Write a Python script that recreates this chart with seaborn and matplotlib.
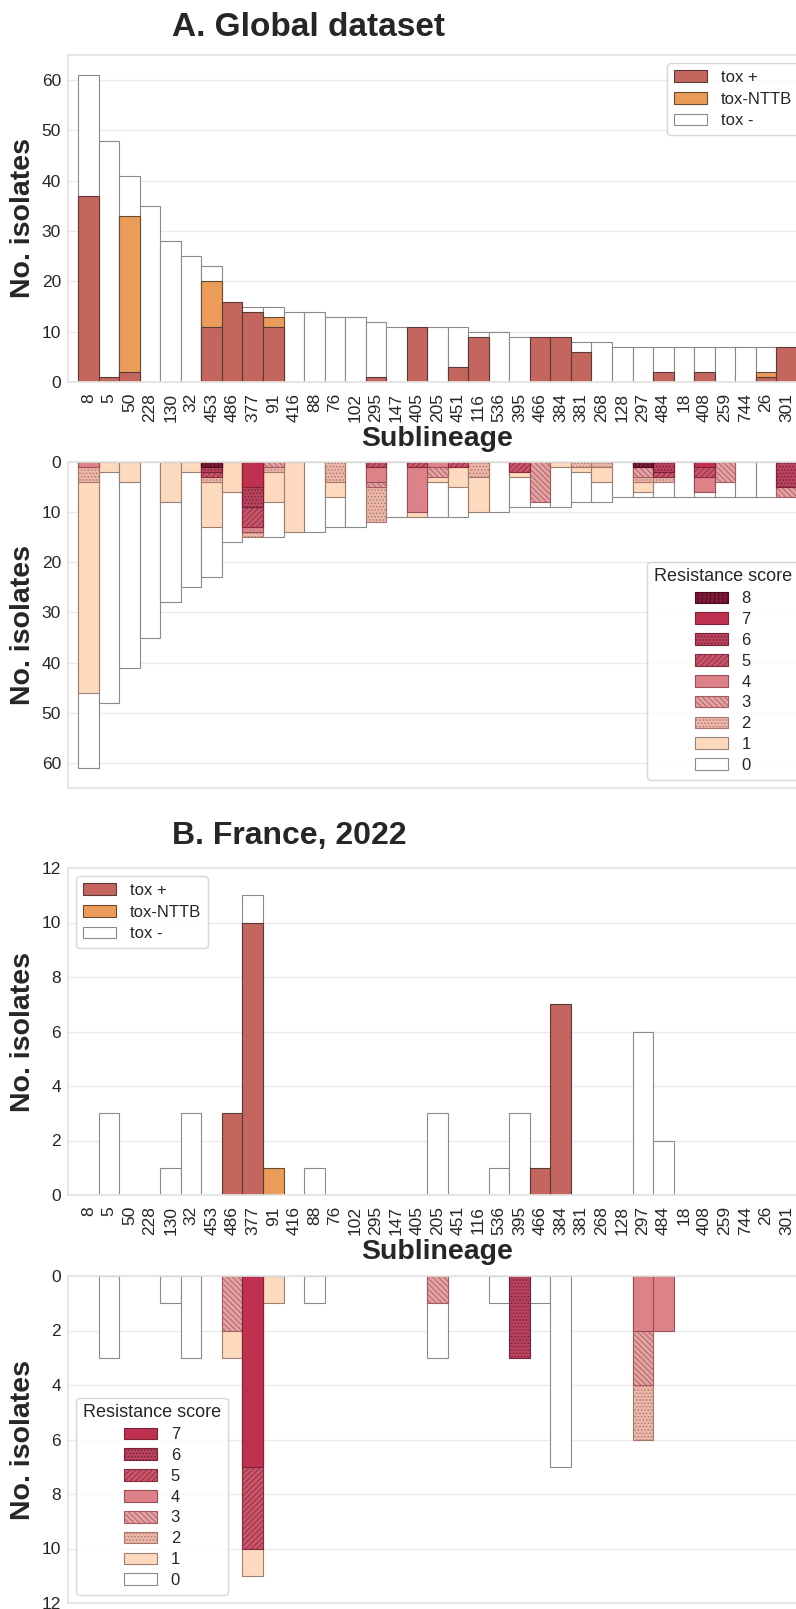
import numpy as np
import pandas as pd
import seaborn as sns
import matplotlib.pyplot as plt
from matplotlib.patches import Patch

sublineages = ["8", "5", "50", "228", "130", "32", "453", "486", "377", "91",
               "416", "88", "76", "102", "295", "147", "405", "205", "451", "116",
               "536", "395", "466", "384", "381", "268", "128", "297", "484", "18",
               "408", "259", "744", "26", "301"]

# A. Global dataset - toxigenicity counts
glob_tox_pos = [37, 1, 2, 0, 0, 0, 11, 16, 14, 11, 0, 0, 0, 0, 1, 0, 11, 0, 3, 9,
                0, 0, 9, 9, 6, 0, 0, 0, 2, 0, 2, 0, 0, 1, 7]
glob_tox_nttb = [0, 0, 31, 0, 0, 0, 9, 0, 0, 2, 0, 0, 0, 0, 0, 0, 0, 0, 0, 0,
                 0, 0, 0, 0, 0, 0, 0, 0, 0, 0, 0, 0, 0, 1, 0]
glob_tox_neg = [24, 47, 8, 35, 28, 25, 3, 0, 1, 2, 14, 14, 13, 13, 11, 11, 0, 11, 8, 1,
                10, 9, 0, 0, 2, 8, 7, 7, 5, 7, 5, 7, 7, 5, 0]

# A. Global dataset - resistance score counts
glob_res_8 = [0, 0, 0, 0, 0, 0, 1, 0, 0, 0, 0, 0, 0, 0, 0, 0, 0, 0, 0, 0,
              0, 0, 0, 0, 0, 0, 0, 1, 0, 0, 0, 0, 0, 0, 0]
glob_res_7 = [0, 0, 0, 0, 0, 0, 0, 0, 5, 0, 0, 0, 0, 0, 0, 0, 0, 0, 0, 0,
              0, 0, 0, 0, 0, 0, 0, 0, 0, 0, 1, 0, 0, 0, 0]
glob_res_6 = [0, 0, 0, 0, 0, 0, 1, 0, 4, 0, 0, 0, 0, 0, 0, 0, 0, 0, 0, 0,
              0, 0, 0, 0, 0, 0, 0, 0, 2, 0, 0, 0, 0, 0, 5]
glob_res_5 = [0, 0, 0, 0, 0, 0, 1, 0, 4, 0, 0, 0, 0, 0, 1, 0, 1, 0, 1, 0,
              0, 2, 0, 0, 0, 0, 0, 0, 1, 0, 2, 0, 0, 0, 0]
glob_res_4 = [1, 0, 0, 0, 0, 0, 0, 0, 1, 0, 0, 0, 0, 0, 3, 0, 9, 1, 0, 0,
              0, 0, 0, 0, 0, 0, 0, 0, 0, 0, 3, 0, 0, 0, 0]
glob_res_3 = [0, 0, 0, 0, 0, 0, 0, 0, 0, 1, 0, 0, 0, 0, 1, 0, 0, 2, 0, 0,
              0, 0, 8, 0, 0, 0, 0, 2, 0, 0, 0, 4, 0, 0, 2]
glob_res_2 = [3, 0, 0, 0, 0, 0, 1, 0, 1, 1, 0, 0, 4, 0, 7, 0, 0, 0, 0, 3,
              0, 0, 0, 0, 1, 1, 0, 1, 1, 0, 0, 0, 0, 0, 0]
glob_res_1 = [42, 2, 4, 0, 8, 2, 9, 6, 0, 6, 14, 0, 3, 0, 0, 0, 1, 1, 4, 7,
              0, 1, 0, 1, 1, 3, 0, 2, 0, 0, 0, 0, 0, 0, 0]
glob_res_0 = [15, 46, 37, 35, 20, 23, 10, 10, 0, 7, 0, 14, 6, 13, 0, 11, 0, 7, 6, 0,
              10, 6, 1, 8, 6, 4, 7, 1, 3, 7, 1, 3, 7, 7, 0]

# B. France 2022 - toxigenicity counts
fr_tox_pos = [0, 0, 0, 0, 0, 0, 0, 3, 10, 0, 0, 0, 0, 0, 0, 0, 0, 0, 0, 0,
              0, 0, 1, 7, 0, 0, 0, 0, 0, 0, 0, 0, 0, 0, 0]
fr_tox_nttb = [0, 0, 0, 0, 0, 0, 0, 0, 0, 1, 0, 0, 0, 0, 0, 0, 0, 0, 0, 0,
               0, 0, 0, 0, 0, 0, 0, 0, 0, 0, 0, 0, 0, 0, 0]
fr_tox_neg = [0, 3, 0, 0, 1, 3, 0, 0, 1, 0, 0, 1, 0, 0, 0, 0, 0, 3, 0, 0,
              1, 3, 0, 0, 0, 0, 0, 6, 2, 0, 0, 0, 0, 0, 0]

# B. France 2022 - resistance score counts
fr_res_7 = [0, 0, 0, 0, 0, 0, 0, 0, 7, 0, 0, 0, 0, 0, 0, 0, 0, 0, 0, 0,
            0, 0, 0, 0, 0, 0, 0, 0, 0, 0, 0, 0, 0, 0, 0]
fr_res_6 = [0, 0, 0, 0, 0, 0, 0, 0, 0, 0, 0, 0, 0, 0, 0, 0, 0, 0, 0, 0,
            0, 3, 0, 0, 0, 0, 0, 0, 0, 0, 0, 0, 0, 0, 0]
fr_res_5 = [0, 0, 0, 0, 0, 0, 0, 0, 3, 0, 0, 0, 0, 0, 0, 0, 0, 0, 0, 0,
            0, 0, 0, 0, 0, 0, 0, 0, 0, 0, 0, 0, 0, 0, 0]
fr_res_4 = [0, 0, 0, 0, 0, 0, 0, 0, 0, 0, 0, 0, 0, 0, 0, 0, 0, 0, 0, 0,
            0, 0, 0, 0, 0, 0, 0, 2, 2, 0, 0, 0, 0, 0, 0]
fr_res_3 = [0, 0, 0, 0, 0, 0, 0, 2, 0, 0, 0, 0, 0, 0, 0, 0, 0, 1, 0, 0,
            0, 0, 0, 0, 0, 0, 0, 2, 0, 0, 0, 0, 0, 0, 0]
fr_res_2 = [0, 0, 0, 0, 0, 0, 0, 0, 0, 0, 0, 0, 0, 0, 0, 0, 0, 0, 0, 0,
            0, 0, 0, 0, 0, 0, 0, 2, 0, 0, 0, 0, 0, 0, 0]
fr_res_1 = [0, 0, 0, 0, 0, 0, 0, 1, 1, 1, 0, 0, 0, 0, 0, 0, 0, 0, 0, 0,
            0, 0, 0, 0, 0, 0, 0, 0, 0, 0, 0, 0, 0, 0, 0]
fr_res_0 = [0, 3, 0, 0, 1, 3, 0, 0, 0, 0, 0, 1, 0, 0, 0, 0, 0, 2, 0, 0,
            1, 0, 1, 7, 0, 0, 0, 0, 0, 0, 0, 0, 0, 0, 0]

tox_labels = ["tox +", "tox-NTTB", "tox -"]
tox_colors = ["#c4665e", "#ea9c58", "#ffffff"]
tox_edges = ["#5a3a36", "#6a4a30", "#8a8a8a"]

res_colors = ["#ffffff", "#fdd9be", "#ecb6a8", "#e3a3a3", "#de8289",
              "#c9566a", "#b8435c", "#c0314f", "#7d1a36"]
res_edges = ["#8a8a8a", "#9a8070", "#a9786c", "#a85a62", "#9a4e56",
             "#8a2a40", "#7a2038", "#80203a", "#4a0a1e"]
res_hatches = [None, None, ".....", "\\\\\\\\\\\\", None, "//////", ".....", None, "||||"]

sns.set_theme(style="whitegrid")
plt.rcParams['font.family'] = ['Liberation Sans', 'DejaVu Sans']
plt.rcParams['hatch.linewidth'] = 0.6
plt.rcParams['axes.edgecolor'] = '#e3e3e3'
plt.rcParams['grid.color'] = '#ebebeb'


def stacked(ax, segments, colors, edges, hatches):
    # segments ordered outer -> inner; each drawn as cumulative total on top of the previous
    seg = np.array(segments, dtype=float)
    for i in range(len(seg)):
        height = seg[i:].sum(axis=0)
        mask = seg[i] > 0
        if not mask.any():
            continue
        df = pd.DataFrame({"sublineage": np.array(sublineages)[mask], "n": height[mask]})
        sns.barplot(data=df, x="sublineage", y="n", order=sublineages, color=colors[i],
                    saturation=1, width=1, edgecolor=edges[i], linewidth=0.8,
                    hatch=hatches[i], errorbar=None, ax=ax)


def tox_panel(ax, pos, nttb, neg, ymax, legend_loc):
    stacked(ax, [neg, nttb, pos], tox_colors[::-1], tox_edges[::-1], [None] * 3)
    ax.set_xlim(-1, 35)
    ax.set_ylim(0, ymax)
    ax.tick_params(axis='x', labelrotation=90, labelsize=12.5, pad=2)
    ax.tick_params(axis='y', labelsize=12.5, length=0, pad=5)
    ax.set_xlabel("Sublineage", fontsize=20.5, fontweight='bold', labelpad=3)
    ax.set_ylabel("No. isolates", fontsize=20.5, fontweight='bold')
    handles = [Patch(facecolor=c, edgecolor=e, linewidth=0.8) for c, e in zip(tox_colors, tox_edges)]
    ax.legend(handles, tox_labels, loc=legend_loc, fontsize=12, labelspacing=0.4, frameon=True)


def res_panel(ax, scores, ymax, legend_loc):
    n = len(scores)
    stacked(ax, scores, res_colors[:n], res_edges[:n], res_hatches[:n])
    ax.set_xlim(-1, 35)
    ax.set_ylim(ymax, 0)
    ax.set_xticklabels([])
    ax.set_xlabel("")
    ax.tick_params(axis='y', labelsize=12.5, length=0, pad=5)
    ax.set_ylabel("No. isolates", fontsize=20.5, fontweight='bold')
    handles = [Patch(facecolor=res_colors[k], edgecolor=res_edges[k], hatch=res_hatches[k], linewidth=0.8)
               for k in range(n - 1, -1, -1)]
    labels = [str(k) for k in range(n - 1, -1, -1)]
    ax.legend(handles, labels, title="Resistance score", loc=legend_loc, fontsize=12,
              title_fontsize=13, labelspacing=0.35, frameon=True)


W, H = 796, 1609
fig = plt.figure(figsize=(W / 100, H / 100), dpi=100)
left, width = 68 / W, 739 / W

ax1 = fig.add_axes([left, 1 - 382 / H, width, 327 / H])
ax2 = fig.add_axes([left, 1 - 788 / H, width, 326 / H])
ax3 = fig.add_axes([left, 1 - 1195 / H, width, 327 / H])
ax4 = fig.add_axes([left, 1 - 1603 / H, width, 327 / H])

tox_panel(ax1, glob_tox_pos, glob_tox_nttb, glob_tox_neg, 65, "upper right")
res_panel(ax2, [glob_res_0, glob_res_1, glob_res_2, glob_res_3, glob_res_4,
                glob_res_5, glob_res_6, glob_res_7, glob_res_8], 65, "lower right")
tox_panel(ax3, fr_tox_pos, fr_tox_nttb, fr_tox_neg, 12, "upper left")
res_panel(ax4, [fr_res_0, fr_res_1, fr_res_2, fr_res_3, fr_res_4,
                fr_res_5, fr_res_6, fr_res_7], 12, "lower left")

for ax in (ax1, ax2):
    ax.set_yticks(range(0, 61, 10))
for ax in (ax3, ax4):
    ax.set_yticks(range(0, 13, 2))

fig.text(172 / W, 1 - 27 / H, "A. Global dataset", fontsize=24, fontweight='bold', va='center')
fig.text(172 / W, 1 - 836 / H, "B. France, 2022", fontsize=23, fontweight='bold', va='center')

fig.savefig("out.png", dpi=100)
